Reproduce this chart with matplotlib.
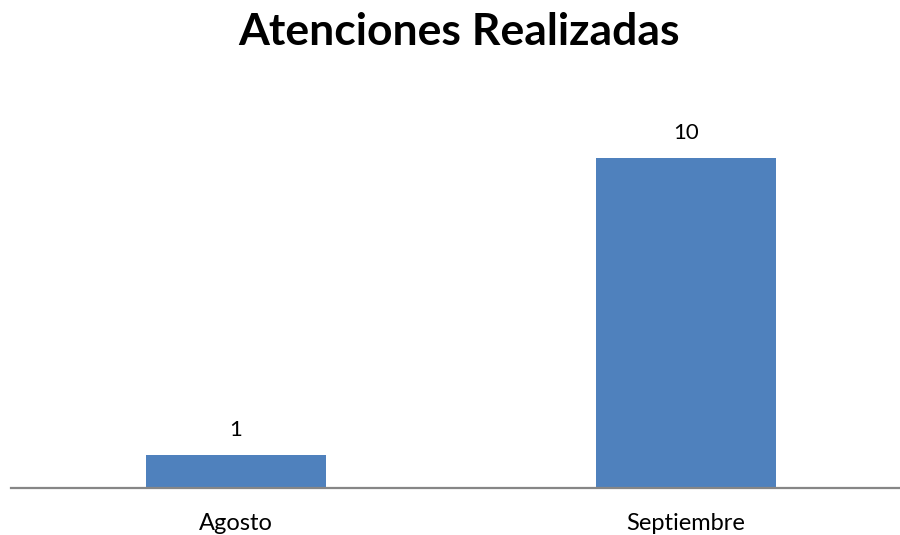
import matplotlib
matplotlib.use("Agg")
import matplotlib.pyplot as plt

# Monthly counts
months = ["Agosto", "Septiembre"]
atenciones = [1, 10]

plt.rcParams["font.family"] = ["Lato", "DejaVu Sans"]

W, H = 900, 535
fig = plt.figure(figsize=(W / 100, H / 100), dpi=100)
# axes run a little past the right edge, as the category axis is wider than the canvas
ax = fig.add_axes([11 / W, 47 / H, 900 / W, 396 / H])

x = range(len(months))
bars = ax.bar(x, atenciones, width=0.4, color="#4F81BD")
ax.set_xlim(-0.5, len(months) - 0.5)
ax.set_ylim(0, 12)

for b, v in zip(bars, atenciones):
    ax.annotate(str(v), (b.get_x() + b.get_width() / 2, v), xytext=(0, 14),
                textcoords="offset points", ha="center", va="baseline", fontsize=16)

ax.set_xticks(list(x))
ax.set_xticklabels(months, fontsize=17)
ax.tick_params(axis="x", length=0, pad=18)
ax.set_yticks([])
for s in ("top", "right", "left"):
    ax.spines[s].set_visible(False)
ax.spines["bottom"].set_color("#868686")
ax.spines["bottom"].set_linewidth(1.6)

fig.text(459 / W, 1 - 45 / H, "Atenciones Realizadas", ha="center", va="baseline",
         fontsize=32, fontweight="bold")

fig.savefig("out.png", dpi=100)
